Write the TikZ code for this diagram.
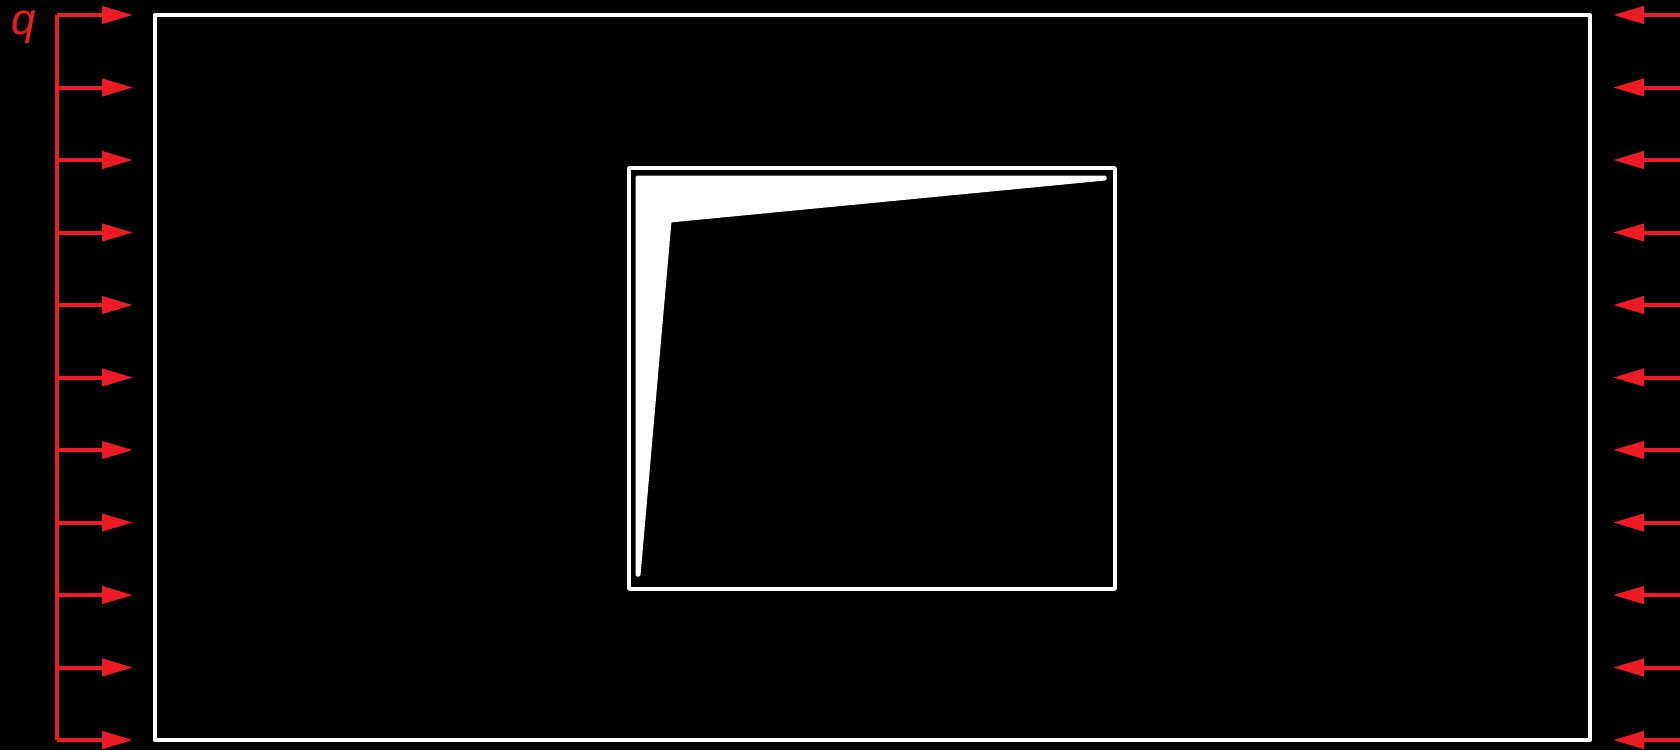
\documentclass[tikz,border=0pt]{standalone}
\usepackage{fontspec}
\setmainfont{Liberation Sans}
\usetikzlibrary{arrows.meta}
\definecolor{loadred}{HTML}{ED1C24}
\tikzset{
  load/.style={draw=loadred, line width=4pt, -{Triangle[length=31pt,width=17pt]}},
  frame/.style={draw=white, line width=4pt, line join=round},
}
\begin{document}
\begin{tikzpicture}[x=1pt,y=-1pt]
\useasboundingbox (0,0) rectangle (1680,750);
\fill[black] (0,0) rectangle (1680,750);
% outer plate
\draw[frame] (155,15) rectangle (1590,740);
% inner hole
\draw[frame, line width=3.5pt] (629,168) rectangle (1115,589);
% white wedge
\filldraw[white, line width=3pt, line join=round]
  (637,177) -- (1105,177) -- (1105,179) -- (670,221) -- (639,575) -- (637,575) -- cycle;
% left loads
\draw[draw=loadred, line width=4pt, rounded corners=2pt] (57,15) -- (57,740);
\foreach \i in {0,...,10}{
  \coordinate (L\i) at (57,15+72.5*\i);
  \coordinate (LT\i) at (133,15+72.5*\i);
  \draw[load] (L\i) -- (LT\i);
  \coordinate (R\i) at (1690,15+72.5*\i);
  \coordinate (RT\i) at (1613,15+72.5*\i);
  \draw[load] (R\i) -- (RT\i);
}
\node[anchor=base, text=loadred, inner sep=0pt, font=\fontsize{44}{48}\selectfont\itshape] (q) at (24,34) {q};
\end{tikzpicture}
\end{document}
